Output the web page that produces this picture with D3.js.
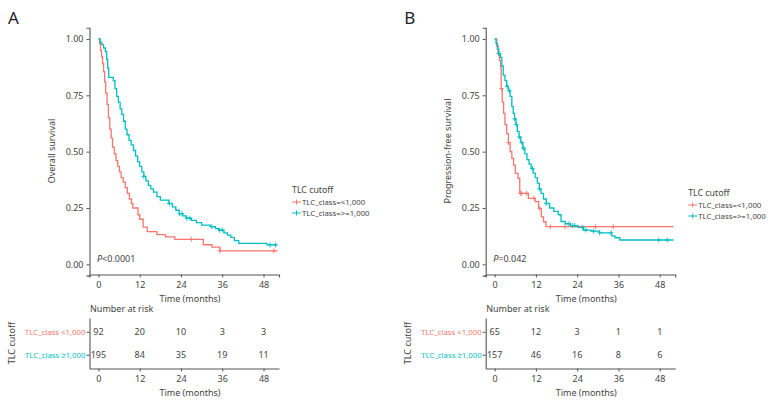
<!DOCTYPE html>
<html><head><meta charset="utf-8">
<script src="https://cdn.jsdelivr.net/npm/d3@7"></script>
<style>
body{margin:0;background:#fff;}
svg text{font-family:"Noto Sans",sans-serif;}
</style></head>
<body>
<svg id="chart" width="777" height="404"></svg>
<script>
// ---------- DATA ----------
const groups = ["TLC_class=<1,000", "TLC_class=>=1,000"];
const riskLabels = ["TLC_class <1,000", "TLC_class \u22651,000"];
const xTicks = [0, 12, 24, 36, 48];
const yTicks = [0, 0.25, 0.5, 0.75, 1];
const endTime = 52;

// Panel A: overall survival
const osLowTime = [0,0.3,0.6,0.9,1.2,1.5,1.8,2.1,2.5,2.9,3.3,3.7,4.1,4.6,5.1,5.6,6.1,6.6,7.2,7.8,8.4,9.0,9.6,10.0,11.5,12.0,13.0,14.2,17.0,19.5,22.2,30.5,33.0,35.3];
const osLowSurv = [1.0,0.98,0.95,0.92,0.89,0.855,0.81,0.76,0.71,0.65,0.60,0.56,0.52,0.49,0.46,0.435,0.41,0.385,0.365,0.34,0.315,0.29,0.27,0.25,0.22,0.20,0.165,0.145,0.132,0.122,0.111,0.087,0.076,0.060];
const osLowCensor = [27.0, 35.3, 51.0];
const osHighTime = [0,0.5,1.0,1.5,2.0,2.4,2.7,3.0,4.3,4.8,5.3,5.8,6.3,6.8,7.3,7.8,8.3,8.9,9.5,10.2,10.8,11.4,12.0,12.6,13.2,13.8,14.5,15.2,16.0,17.0,18.0,20.5,21.5,22.5,23.5,24.5,25.5,27.0,28.5,30.0,32.5,34.0,35.0,36.5,37.5,38.5,39.5,40.8,49.0];
const osHighSurv = [1.0,0.985,0.975,0.96,0.945,0.91,0.87,0.83,0.815,0.78,0.745,0.72,0.69,0.665,0.635,0.60,0.575,0.55,0.53,0.505,0.48,0.455,0.435,0.41,0.39,0.37,0.35,0.335,0.32,0.30,0.285,0.27,0.255,0.24,0.225,0.215,0.205,0.195,0.185,0.174,0.167,0.158,0.152,0.14,0.13,0.12,0.105,0.093,0.086];
const osHighCensor = [13.2, 20.6, 23.6, 24.3, 25.7, 26.6, 33.0, 35.2, 36.0, 49.9, 51.5];
const osLowRisk = [92, 20, 10, 3, 3];
const osHighRisk = [195, 84, 35, 19, 11];

// Panel B: progression-free survival
const pfsLowTime = [0,0.6,1.0,1.4,1.7,1.9,2.2,2.6,3.0,3.5,4.0,4.5,5.0,5.5,6.0,6.8,7.3,9.8,11.8,12.8,13.6,14.2,14.9];
const pfsLowSurv = [1.0,0.97,0.935,0.905,0.875,0.78,0.72,0.67,0.62,0.58,0.54,0.50,0.47,0.44,0.404,0.382,0.315,0.293,0.278,0.248,0.211,0.189,0.167];
const pfsLowCensor = [1.3, 2.0, 4.0, 7.5, 7.9, 9.3, 11.4, 13.1, 16.2, 20.5, 29.3, 34.5];
const pfsHighTime = [0,0.4,0.8,1.2,1.7,2.1,2.5,3.0,3.5,4.0,4.5,5.0,5.4,5.8,6.2,6.6,7.1,7.6,8.2,8.8,9.4,10.0,10.6,11.2,11.8,12.4,13.0,13.5,14.2,15.0,16.0,17.2,18.5,19.3,20.5,22.0,24.2,25.8,28.0,30.5,34.0,35.0,36.4];
const pfsHighSurv = [1.0,0.98,0.955,0.935,0.918,0.88,0.84,0.815,0.79,0.77,0.745,0.70,0.67,0.645,0.62,0.59,0.565,0.54,0.515,0.49,0.465,0.445,0.425,0.405,0.385,0.36,0.335,0.315,0.29,0.27,0.25,0.235,0.22,0.19,0.18,0.172,0.164,0.152,0.147,0.14,0.126,0.118,0.108];
const pfsHighCensor = [1.2, 3.6, 4.3, 5.8, 6.3, 7.2, 7.9, 8.4, 11.0, 13.0, 15.0, 21.6, 22.6, 23.3, 25.5, 26.5, 28.7, 30.5, 33.9, 47.7, 50.2];
const pfsLowRisk = [65, 12, 3, 1, 1];
const pfsHighRisk = [157, 46, 16, 8, 6];

// ---------- DRAW ----------
const colors = ["#F8766D", "#00BFC4"];
const axisCol = "#555", textCol = "#444";
const fs = 9;
const svg = d3.select("#chart");

function stepValue(times, surv, t){
  let v = surv[0];
  for (let i = 0; i < times.length; i++) if (times[i] <= t) v = surv[i];
  return v;
}

function panel(o){
  const g = svg.append("g").attr("transform", `translate(${o.dx},0)`);
  const x = d3.scaleLinear().domain([-2.6, 52.5]).range([89.5, 279]);
  const y = d3.scaleLinear().domain([-0.05, 1.05]).range([275.6, 27.7]);

  g.append("text").attr("x", 8).attr("y", 24).attr("font-size", 17).attr("fill", "#222").text(o.letter);

  const ya = g.append("g").attr("transform", "translate(89.5,0)")
    .call(d3.axisLeft(y).tickValues(yTicks).tickFormat(d3.format(".2f")).tickSize(3).tickPadding(3));
  const xa = g.append("g").attr("transform", "translate(0,274.5)")
    .call(d3.axisBottom(x).tickValues(xTicks).tickSize(3).tickPadding(4));
  [ya, xa].forEach(a => {
    a.select(".domain").attr("stroke", axisCol).attr("stroke-width", 1.1);
    a.selectAll(".tick line").attr("stroke", axisCol);
    a.selectAll("text").attr("fill", textCol).attr("font-size", fs).attr("font-family", "Noto Sans");
  });

  g.append("text").attr("transform", `translate(${o.ylabX},151) rotate(-90)`)
    .attr("text-anchor", "middle").attr("font-size", fs).attr("fill", textCol).text(o.ylab);
  g.append("text").attr("x", 190).attr("y", 302).attr("text-anchor", "middle")
    .attr("font-size", fs).attr("fill", textCol).text("Time (months)");

  const line = d3.line().x(d => x(d[0])).y(d => y(d[1])).curve(d3.curveStepAfter);
  o.series.forEach((s, i) => {
    const pts = s.time.map((t, j) => [t, s.surv[j]]);
    pts.push([endTime, s.surv[s.surv.length - 1]]);
    g.append("path").attr("d", line(pts)).attr("fill", "none")
      .attr("stroke", colors[i]).attr("stroke-width", 1.3);
    g.selectAll(null).data(s.censor).enter().append("path")
      .attr("d", t => { const cx = x(t), cy = y(stepValue(s.time, s.surv, t));
        return `M${cx-2.2},${cy}H${cx+2.2}M${cx},${cy-2.5}V${cy+2.5}`; })
      .attr("stroke", colors[i]).attr("stroke-width", 0.9);
  });

  const pt = g.append("text").attr("x", 97).attr("y", 262).attr("font-size", fs).attr("fill", textCol);
  pt.append("tspan").attr("font-style", "italic").text("P");
  pt.append("tspan").text(o.p);

  const lg = g.append("g").attr("transform", `translate(292,${o.legY})`);
  lg.append("text").attr("x", 0).attr("y", 0).attr("font-size", 8.8).attr("fill", textCol).text("TLC cutoff");
  groups.forEach((name, i) => {
    const yy = 12 + i * 11;
    lg.append("path").attr("d", `M0,${yy-3}H9M4.5,${yy-5.5}V${yy-0.5}`).attr("stroke", colors[i]).attr("stroke-width", 1);
    lg.append("text").attr("x", 10).attr("y", yy).attr("font-size", 7.8).attr("fill", textCol).text(name);
  });

  g.append("text").attr("x", 90).attr("y", 312).attr("font-size", fs).attr("fill", textCol).text("Number at risk");
  const ry = d3.scalePoint().domain(riskLabels).range([318, 368.5]).padding(0.6);
  const ra = g.append("g").attr("transform", "translate(89.5,0)")
    .call(d3.axisLeft(ry).tickSize(3).tickPadding(1).tickSizeOuter(0));
  ra.select(".domain").attr("stroke", axisCol).attr("stroke-width", 1.1);
  ra.selectAll(".tick line").attr("stroke", axisCol);
  ra.selectAll("text").attr("font-size", 7.8).attr("font-family", "Noto Sans").attr("fill", (d, i) => colors[i]);
  const rb = g.append("g").attr("transform", "translate(0,368.5)")
    .call(d3.axisBottom(x).tickValues(xTicks).tickSize(3).tickPadding(4).tickSizeOuter(0));
  rb.select(".domain").attr("stroke", axisCol).attr("stroke-width", 1.1);
  rb.selectAll(".tick line").attr("stroke", axisCol);
  rb.selectAll("text").attr("fill", textCol).attr("font-size", fs).attr("font-family", "Noto Sans");
  g.append("text").attr("x", 190).attr("y", 396).attr("text-anchor", "middle")
    .attr("font-size", fs).attr("fill", textCol).text("Time (months)");
  [o.lowRisk, o.highRisk].forEach((arr, i) => {
    g.selectAll(null).data(arr).enter().append("text")
      .attr("x", (d, j) => x(xTicks[j])).attr("y", ry(riskLabels[i]) + 3.5)
      .attr("text-anchor", "middle").attr("font-size", fs).attr("fill", textCol).text(d => d);
  });
  g.append("text").attr("transform", `translate(${o.riskLabX},343) rotate(-90)`)
    .attr("text-anchor", "middle").attr("font-size", fs).attr("fill", textCol).text("TLC cutoff");
}

panel({dx: 0, letter: "A", ylab: "Overall survival", ylabX: 55, p: "<0.0001", legY: 193,
  riskLabX: 15,
  series: [{time: osLowTime, surv: osLowSurv, censor: osLowCensor},
           {time: osHighTime, surv: osHighSurv, censor: osHighCensor}],
  lowRisk: osLowRisk, highRisk: osHighRisk});
panel({dx: 396.2, letter: "B", ylab: "Progression-free survival", ylabX: 55, p: "=0.042", legY: 196,
  riskLabX: 15,
  series: [{time: pfsLowTime, surv: pfsLowSurv, censor: pfsLowCensor},
           {time: pfsHighTime, surv: pfsHighSurv, censor: pfsHighCensor}],
  lowRisk: pfsLowRisk, highRisk: pfsHighRisk});
</script>
</body></html>
